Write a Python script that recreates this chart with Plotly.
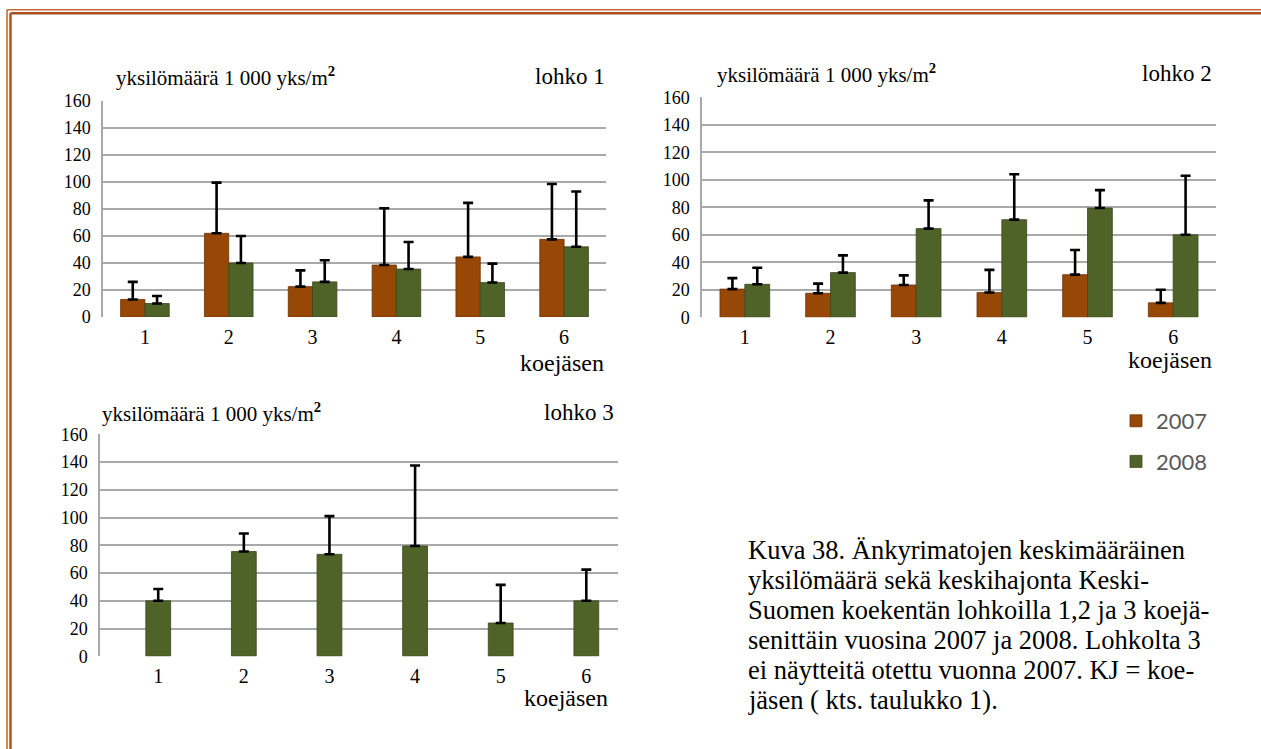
import plotly.graph_objects as go

W, H = 1261, 749

# Koejäsenet (treatments) 1-6
koejasen = [1, 2, 3, 4, 5, 6]
tick_text = ["1", "2", "3", "4", "5", "6"]
y_ticks = [0, 20, 40, 60, 80, 100, 120, 140, 160]

# Lohko 1: mean counts (1 000 yks/m2) and standard deviations
lohko1_2007 = [13, 62, 22.5, 38.5, 44.5, 57.5]
lohko1_2007_sd = [13, 37.5, 12, 42, 40, 41]
lohko1_2008 = [10, 40, 26, 35.5, 25.5, 52]
lohko1_2008_sd = [5.5, 20, 16, 20, 14, 41]

# Lohko 2
lohko2_2007 = [20.5, 17.5, 23.5, 18, 31, 10.5]
lohko2_2007_sd = [8, 7, 7, 16.5, 18, 9.5]
lohko2_2008 = [24, 32.5, 64.5, 71, 79.5, 60]
lohko2_2008_sd = [12, 12.5, 20.5, 33, 13, 43]

# Lohko 3 (no samples taken in 2007)
lohko3_2008 = [40, 75.5, 73.5, 79.5, 24, 40]
lohko3_2008_sd = [8.5, 13, 27.5, 58, 27.5, 22.5]

C2007 = "#974706"
C2008 = "#4f6228"
GRID = "#a9a9a9"
SERIF = "Liberation Serif, Times New Roman, Times, serif"


def px(x):
    return x / W


def py(y):
    return 1 - y / H


def err(sd):
    return dict(type="data", symmetric=False, array=sd, arrayminus=[0] * len(sd),
                color="black", thickness=2.6, width=5)


fig = go.Figure()

# lohko 1
fig.add_trace(go.Bar(x=koejasen, y=lohko1_2007, error_y=err(lohko1_2007_sd), name="2007",
                     marker=dict(color=C2007, line=dict(color="#6e3405", width=0.8)),
                     xaxis="x", yaxis="y", offsetgroup="a", legendgroup="g2007"))
fig.add_trace(go.Bar(x=koejasen, y=lohko1_2008, error_y=err(lohko1_2008_sd), name="2008",
                     marker=dict(color=C2008, line=dict(color="#3a481d", width=0.8)),
                     xaxis="x", yaxis="y", offsetgroup="b", legendgroup="g2008"))
# lohko 2
fig.add_trace(go.Bar(x=koejasen, y=lohko2_2007, error_y=err(lohko2_2007_sd), name="2007",
                     marker=dict(color=C2007, line=dict(color="#6e3405", width=0.8)),
                     xaxis="x2", yaxis="y2", offsetgroup="a", showlegend=False))
fig.add_trace(go.Bar(x=koejasen, y=lohko2_2008, error_y=err(lohko2_2008_sd), name="2008",
                     marker=dict(color=C2008, line=dict(color="#3a481d", width=0.8)),
                     xaxis="x2", yaxis="y2", offsetgroup="b", showlegend=False))
# lohko 3
fig.add_trace(go.Bar(x=koejasen, y=lohko3_2008, error_y=err(lohko3_2008_sd), name="2008",
                     marker=dict(color=C2008, line=dict(color="#3a481d", width=0.8)),
                     width=0.29, xaxis="x3", yaxis="y3", showlegend=False))


def xax(domain, rng, anchor):
    return dict(domain=domain, range=rng, anchor=anchor, tickvals=koejasen, ticktext=tick_text,
                showgrid=False, zeroline=False, showline=False, ticks="", automargin=False,
                ticklabelstandoff=6,
                tickfont=dict(family=SERIF, size=20, color="black"), fixedrange=True)


def yax(domain, anchor):
    return dict(domain=domain, range=[0, 160], anchor=anchor, tickvals=y_ticks,
                showgrid=True, gridcolor=GRID, gridwidth=1.5, zeroline=False,
                showline=True, linecolor=GRID, linewidth=1.5, ticks="", automargin=False,
                ticklabelstandoff=7,
                tickfont=dict(family=SERIF, size=18, color="black"), fixedrange=True)


fig.update_layout(
    width=W, height=H,
    margin=dict(l=0, r=0, t=0, b=0, pad=0, autoexpand=False),
    paper_bgcolor="white", plot_bgcolor="white",
    barmode="group", bargap=0.42, bargroupgap=0,
    xaxis=xax([px(103), px(606)], [0.5, 6.5], "y"),
    yaxis=yax([py(317), py(101)], "x"),
    xaxis2=xax([px(702), px(1216)], [0.5, 6.5], "y2"),
    yaxis2=yax([py(317.3), py(97.3)], "x2"),
    xaxis3=xax([px(100), px(618)], [0.32, 6.37], "y3"),
    yaxis3=yax([py(656.3), py(434.3)], "x3"),
    showlegend=True,
    legend=dict(x=px(1116), y=py(400), xanchor="left", yanchor="top",
                font=dict(family="Lato", size=22, color="#595959"),
                tracegroupgap=9, bgcolor="rgba(0,0,0,0)", itemwidth=30),
)

ann = []
titles = [
    (114, 76, 607, 76, 606, 363, "lohko 1"),
    (715, 73, 1214, 73, 1214, 360, "lohko 2"),
    (100, 412, 616, 412, 610, 698, "lohko 3"),
]
for tx, ty, lx, ly, kx, ky, lohko in titles:
    ann.append(dict(x=px(tx), y=py(ty), xref="paper", yref="paper", xanchor="left", yanchor="middle",
                    text="yksilömäärä 1 000 yks/m<sup><b>2</b></sup>", showarrow=False,
                    font=dict(family=SERIF, size=21, color="black")))
    ann.append(dict(x=px(lx), y=py(ly), xref="paper", yref="paper", xanchor="right", yanchor="middle",
                    text=lohko, showarrow=False, font=dict(family=SERIF, size=23, color="black")))
    ann.append(dict(x=px(kx), y=py(ky), xref="paper", yref="paper", xanchor="right", yanchor="middle",
                    text="koejäsen", showarrow=False, font=dict(family=SERIF, size=24, color="black")))

caption = [
    "Kuva 38. Änkyrimatojen keskimääräinen",
    "yksilömäärä sekä keskihajonta Keski-",
    "Suomen koekentän lohkoilla 1,2 ja 3 koejä-",
    "senittäin vuosina 2007 ja 2008. Lohkolta 3",
    "ei näytteitä otettu vuonna 2007. KJ = koe-",
    "jäsen ( kts. taulukko 1).",
]
for i, line in enumerate(caption):
    ann.append(dict(x=px(746), y=py(550 + 30 * i), xref="paper", yref="paper",
                    xanchor="left", yanchor="middle", text=line, showarrow=False,
                    font=dict(family=SERIF, size=26.5, color="black")))
fig.update_layout(annotations=ann)

# double page frame, running off the right and bottom edges
shapes = [
    dict(type="line", xref="paper", yref="paper", x0=px(7), x1=1.02, y0=py(9.7), y1=py(9.7),
         line=dict(color="#c26d33", width=1.6)),
    dict(type="line", xref="paper", yref="paper", x0=px(7), x1=px(7), y0=py(9.7), y1=-0.02,
         line=dict(color="#c26d33", width=1.6)),
    dict(type="line", xref="paper", yref="paper", x0=px(10.5), x1=1.02, y0=py(13.2), y1=py(13.2),
         line=dict(color="#a9501a", width=2.4)),
    dict(type="line", xref="paper", yref="paper", x0=px(10.5), x1=px(10.5), y0=py(13.2), y1=-0.02,
         line=dict(color="#a9501a", width=2.4)),
]
fig.update_layout(shapes=shapes)

fig.write_html("out.html", config={"displayModeBar": False})
